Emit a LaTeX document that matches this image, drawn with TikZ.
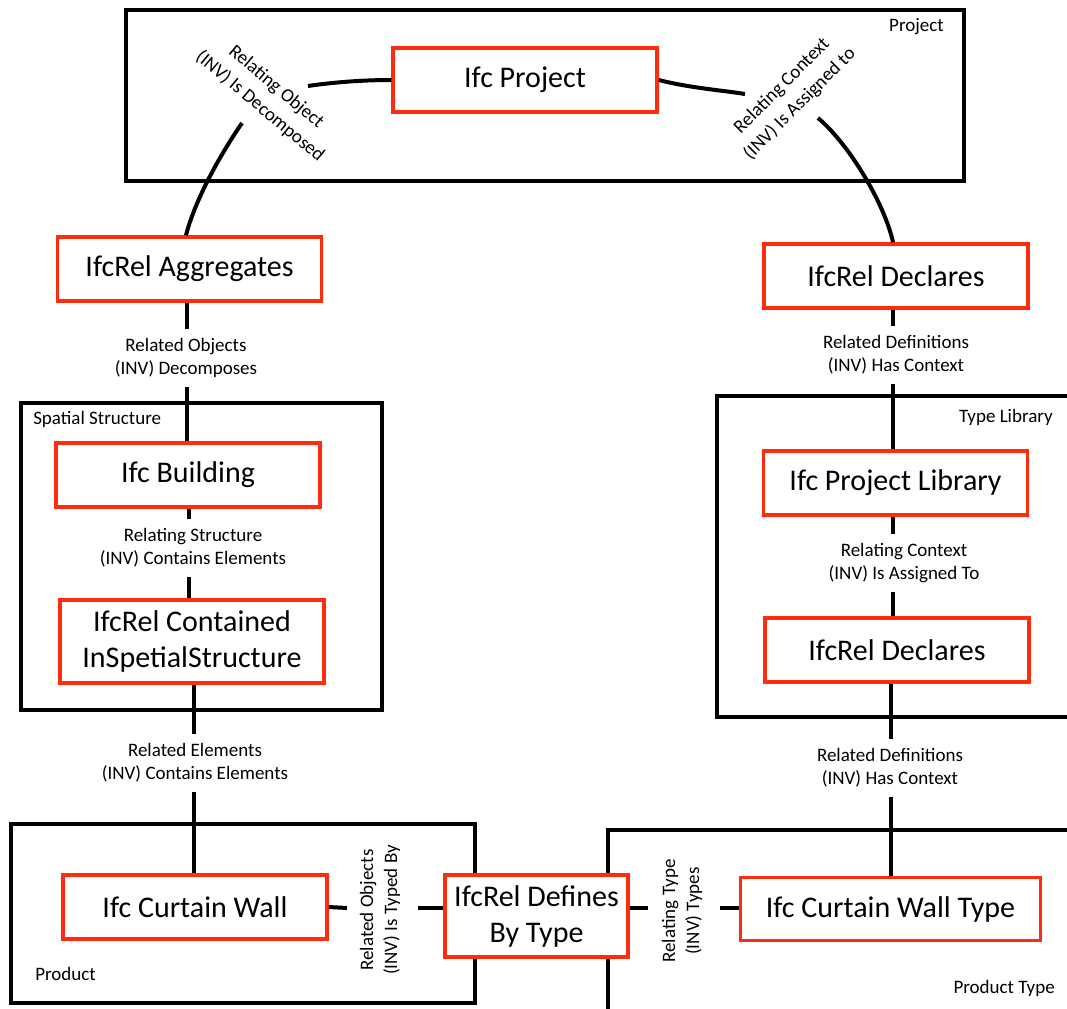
\documentclass[tikz,border=0pt]{standalone}
\usepackage{fontspec}
\setmainfont{Carlito}
\definecolor{ifcred}{RGB}{255,45,15}
\newcommand\entfont{\fontsize{22.5pt}{27pt}\selectfont}
\newcommand\lblfont{\fontsize{14.25pt}{17.25pt}\selectfont}
\newcommand\slantfont{\fontsize{14.25pt}{19pt}\selectfont}
\newcommand\uprightfont{\fontsize{14.25pt}{18pt}\selectfont}
\begin{document}
\begin{tikzpicture}[x=0.75pt,y=-0.75pt,
  entity/.style={draw=ifcred, line width=2.6pt, fill=white, align=center,
    font=\entfont, inner sep=0pt, minimum width=198pt, minimum height=48pt},
  frame/.style={draw=black, line width=2.8pt},
  conn/.style={draw=black, line width=3pt},
  rel/.style={align=center, font=\lblfont, inner sep=0pt, inner ysep=7pt},
  tag/.style={font=\lblfont, inner sep=0pt}]
\useasboundingbox (0,0) rectangle (1067,1009);
\clip (0,0) rectangle (1067,1009);

% grouping frames
\draw[frame, line width=3.2pt] (126,10) rectangle (964,181);
\draw[frame] (21,403) rectangle (382,710);
\draw[frame] (1075,396) -- (717,396) -- (717,717) -- (1075,717);
\draw[frame] (11,824) rectangle (475,1003);
\draw[frame] (1075,830) -- (608,830) -- (608,1015);

\node[tag, anchor=east] (tproject) at (944,27) {Project};
\node[tag, anchor=west] (tspatial) at (33,419) {Spatial Structure};
\node[tag, anchor=east] (ttypelib) at (1053,417) {Type Library};
\node[tag, anchor=west] (tproduct) at (35,974) {Product};
\node[tag, anchor=east] (tprodtype) at (1055,988) {Product Type};

% entities
\node[entity] (proj) at (525,80) {Ifc Project};
\node[entity] (agg) at (189.5,269) {IfcRel Aggregates};
\node[entity] (decl) at (896,276) {IfcRel Declares};
\node[entity] (bldg) at (188,475) {Ifc Building};
\node[entity, minimum height=62.25pt] (cont) at (192,641.5) {IfcRel Contained\\InSpetialStructure};
\node[entity] (plib) at (895.5,483) {Ifc Project Library};
\node[entity] (decltwo) at (897,650) {IfcRel Declares};
\node[entity] (cw) at (195,907) {Ifc Curtain Wall};
\node[entity, minimum width=137.25pt, minimum height=61.5pt] (def) at (536.5,916) {IfcRel Defines\\By Type};
\node[entity, minimum width=225pt, minimum height=47.25pt] (cwt) at (890.5,909) {Ifc Curtain Wall Type};

% relationship labels
\node[rel, font=\slantfont, rotate=-40] (lrelobj) at (268,97) {Relating Object\\(INV) Is Decomposed};
\node[rel, font=\slantfont, rotate=45] (lrelctx) at (791,95) {Relating Context\\(INV) Is Assigned to};
\node[rel] (lobj) at (186,358) {Related Objects\\(INV) Decomposes};
\node[rel] (lstruct) at (193,548) {Relating Structure\\(INV) Contains Elements};
\node[rel] (lelem) at (195,763) {Related Elements\\(INV) Contains Elements};
\node[rel] (ldefs) at (896,355) {Related Definitions\\(INV) Has Context};
\node[rel] (lctx) at (904,563) {Relating Context\\(INV) Is Assigned To};
\node[rel] (ldefstwo) at (890,768) {Related Definitions\\(INV) Has Context};
\node[rel, font=\uprightfont, rotate=90] (ltyped) at (380,910) {Related Objects\\(INV) Is Typed By};
\node[rel, font=\uprightfont, rotate=90] (ltypes) at (682,911) {Relating Type\\(INV) Types};

% free ends of the connectors
\coordinate (pl) at (308,86);
\coordinate (al) at (242,123);
\coordinate (pr) at (745,94);
\coordinate (dr) at (818,118);
\coordinate (ga) at (347,908);
\coordinate (gb) at (418,908);
\coordinate (gc) at (648,908);
\coordinate (gd) at (720,908);

% connectors
\draw[conn] (proj.west) .. controls (365,80) and (335,82) .. (pl);
\draw[conn] (al) .. controls (220,155) and (195,200) .. (agg.north -| 186,0);
\draw[conn] (proj.east) .. controls (690,88) and (720,90) .. (pr);
\draw[conn] (dr) .. controls (850,145) and (885,205) .. (decl.north -| 893,0);

\draw[conn] (agg.south -| 187,0) -- (lobj.north -| 187,0);
\draw[conn] (lobj.south -| 187,0) -- (bldg.north -| 187,0);
\draw[conn] (bldg.south -| 189,0) -- (lstruct.north -| 189,0);
\draw[conn] (lstruct.south -| 189,0) -- (cont.north -| 189,0);
\draw[conn] (cont.south -| 194,0) -- (lelem.north -| 194,0);
\draw[conn] (lelem.south -| 194,0) -- (cw.north -| 194,0);

\draw[conn] (decl.south -| 893,0) -- (ldefs.north -| 893,0);
\draw[conn] (ldefs.south -| 893,0) -- (plib.north -| 893,0);
\draw[conn] (plib.south -| 893,0) -- (lctx.north -| 893,0);
\draw[conn] (lctx.south -| 893,0) -- (decltwo.north -| 893,0);
\draw[conn] (decltwo.south -| 891,0) -- (ldefstwo.north -| 891,0);
\draw[conn] (ldefstwo.south -| 891,0) -- (cwt.north -| 891,0);

\draw[conn] (cw.east) -- (ga);
\draw[conn] (gb) -- (def.west |- gb);
\draw[conn] (def.east |- gc) -- (gc);
\draw[conn] (gd) -- (cwt.west |- gd);
\end{tikzpicture}
\end{document}
